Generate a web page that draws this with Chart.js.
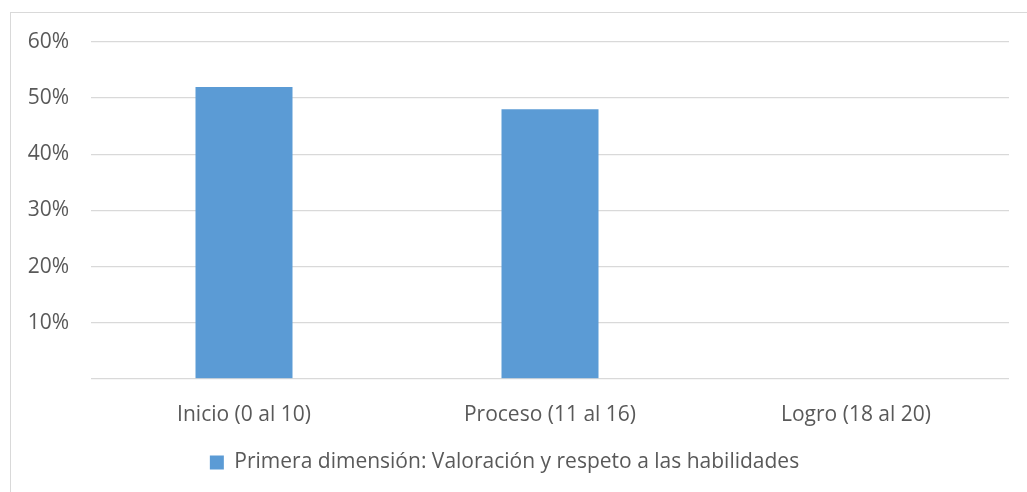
<!DOCTYPE html>
<html>
<head>
<meta charset="utf-8">
<script src="https://cdn.jsdelivr.net/npm/chart.js@4/dist/chart.umd.min.js"></script>
<style>
    html, body { margin: 0; padding: 0; background: #fff; overflow: hidden; }
    #frame {
        position: absolute; left: 10px; top: 12px; width: 1100px; height: 600px;
        border: 1px solid #d9d9d9; box-sizing: border-box;
    }
    #wrap { position: absolute; left: 0; top: 0; width: 1027px; height: 492px; }
</style>
</head>
<body>
<div id="frame"></div>
<div id="wrap"><canvas id="dimChart"></canvas></div>
<script>
// Data
const categories = ['Inicio (0 al 10)', 'Proceso (11 al 16)', 'Logro (18 al 20)'];
const seriesName = 'Primera dimensión: Valoración y respeto a las habilidades';
const seriesValues = [52, 48, 0];
const yTicks = [0, 10, 20, 30, 40, 50, 60];

document.addEventListener('DOMContentLoaded', function() {

    const ctx = document.getElementById('dimChart').getContext('2d');
    const textColor = '#595959';
    const fontFamily = '"Open Sans", "Noto Sans", sans-serif';

    new Chart(ctx, {
        type: 'bar',
        data: {
            labels: categories,
            datasets: [{
                label: seriesName,
                data: seriesValues,
                backgroundColor: '#5b9bd5',
                borderWidth: 0,
                barPercentage: 0.317,
                categoryPercentage: 1
            }]
        },
        options: {
            responsive: true,
            maintainAspectRatio: false,
            animation: false,
            layout: { padding: { top: 42, right: 18, left: 0, bottom: 9 } },
            plugins: {
                legend: {
                    position: 'bottom',
                    labels: {
                        color: textColor,
                        font: { family: fontFamily, size: 21 },
                        boxWidth: 14,
                        boxHeight: 14,
                        padding: 0
                    }
                },
                tooltip: { enabled: false }
            },
            scales: {
                y: {
                    min: 0,
                    max: 60,
                    afterBuildTicks: function(scale) {
                        scale.ticks = yTicks.map(v => ({ value: v }));
                    },
                    afterFit: function(scale) { scale.width = 91; },
                    ticks: {
                        color: textColor,
                        font: { family: fontFamily, size: 21 },
                        padding: 22,
                        callback: v => v === 0 ? '' : v + '%'
                    },
                    grid: { color: '#d9d9d9', lineWidth: 1.3, drawTicks: false },
                    border: { display: false }
                },
                x: {
                    ticks: {
                        color: textColor,
                        font: { family: fontFamily, size: 21 },
                        padding: 24
                    },
                    grid: { display: false, drawTicks: false },
                    border: { display: false }
                }
            }
        }
    });

});
</script>
</body>
</html>
